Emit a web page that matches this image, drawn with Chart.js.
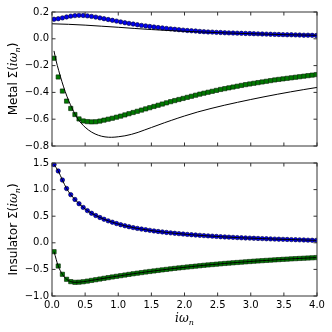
<!DOCTYPE html>
<html>
<head>
<meta charset="utf-8">
<script src="https://cdn.jsdelivr.net/npm/chart.js@4/dist/chart.umd.min.js"></script>
<style>
  body { margin: 0; background: #fff; }
  #wrap { position: relative; width: 332px; height: 332px; }
  canvas { position: absolute; left: 0; }
</style>
</head>
<body>
<div id="wrap">
  <canvas id="topChart" width="332" height="160" style="top:0"></canvas>
  <canvas id="botChart" width="332" height="182" style="top:150px"></canvas>
</div>
<script>
// Matsubara frequencies (x positions of the markers)
const omega = [0.031, 0.094, 0.157, 0.220, 0.283, 0.346, 0.408, 0.471, 0.534, 0.597,
  0.660, 0.723, 0.785, 0.848, 0.911, 0.974, 1.037, 1.100, 1.162, 1.225,
  1.288, 1.351, 1.414, 1.476, 1.539, 1.602, 1.665, 1.728, 1.791, 1.853,
  1.916, 1.979, 2.042, 2.105, 2.168, 2.231, 2.293, 2.356, 2.419, 2.482,
  2.545, 2.608, 2.670, 2.733, 2.796, 2.859, 2.922, 2.985, 3.047, 3.110,
  3.173, 3.236, 3.299, 3.362, 3.424, 3.487, 3.550, 3.613, 3.676, 3.738,
  3.801, 3.864, 3.927, 3.990];

// Metal panel
const metalBlue = [0.146, 0.150, 0.156, 0.163, 0.169, 0.173, 0.175, 0.174, 0.171, 0.167,
  0.162, 0.156, 0.150, 0.144, 0.138, 0.132, 0.126, 0.120, 0.115, 0.110,
  0.105, 0.100, 0.096, 0.092, 0.088, 0.084, 0.081, 0.077, 0.074, 0.071,
  0.068, 0.065, 0.062, 0.060, 0.058, 0.055, 0.053, 0.051, 0.050, 0.048,
  0.047, 0.045, 0.044, 0.043, 0.042, 0.041, 0.040, 0.039, 0.038, 0.037,
  0.036, 0.035, 0.034, 0.033, 0.032, 0.031, 0.030, 0.030, 0.029, 0.028,
  0.027, 0.027, 0.026, 0.025];
const metalGreen = [-0.145, -0.285, -0.390, -0.465, -0.520, -0.565, -0.598, -0.613, -0.618, -0.620,
  -0.619, -0.614, -0.607, -0.600, -0.593, -0.585, -0.577, -0.568, -0.559, -0.550,
  -0.541, -0.532, -0.523, -0.514, -0.505, -0.496, -0.487, -0.478, -0.469, -0.461,
  -0.453, -0.445, -0.437, -0.429, -0.421, -0.413, -0.406, -0.399, -0.392, -0.385,
  -0.378, -0.372, -0.366, -0.360, -0.354, -0.348, -0.342, -0.337, -0.332, -0.327,
  -0.322, -0.317, -0.312, -0.307, -0.303, -0.299, -0.295, -0.291, -0.287, -0.283,
  -0.279, -0.275, -0.271, -0.267];
const metalLineUpX = [0, 0.25, 0.5, 0.75, 1.0, 1.25, 1.5, 1.75, 2.0, 2.5, 3.0, 3.5, 4.0];
const metalLineUp = [0.112, 0.108, 0.102, 0.094, 0.086, 0.077, 0.069, 0.062, 0.056, 0.046, 0.038, 0.031, 0.026];
const metalLineLowX = [0.03, 0.06, 0.1, 0.15, 0.2, 0.25, 0.3, 0.35, 0.4, 0.5, 0.6, 0.7, 0.8, 0.9,
  1.0, 1.1, 1.2, 1.3, 1.4, 1.5, 1.6, 1.7, 1.8, 1.9, 2.0, 2.2, 2.4, 2.6, 2.8, 3.0, 3.2, 3.4, 3.6, 3.8, 4.0];
const metalLineLow = [-0.09, -0.16, -0.235, -0.32, -0.395, -0.46, -0.515, -0.565, -0.605, -0.66, -0.697, -0.72, -0.732, -0.735,
  -0.731, -0.724, -0.713, -0.698, -0.68, -0.662, -0.644, -0.626, -0.609, -0.592, -0.576, -0.546, -0.52, -0.496, -0.474, -0.453, -0.433, -0.414, -0.396, -0.379, -0.363];

// Insulator panel
const insBlue = [1.47, 1.35, 1.18, 1.02, 0.905, 0.815, 0.735, 0.665, 0.605, 0.555,
  0.513, 0.476, 0.443, 0.413, 0.387, 0.362, 0.340, 0.320, 0.302, 0.286,
  0.271, 0.258, 0.246, 0.234, 0.223, 0.213, 0.204, 0.195, 0.187, 0.179,
  0.172, 0.165, 0.158, 0.152, 0.146, 0.140, 0.135, 0.130, 0.125, 0.120,
  0.114, 0.110, 0.106, 0.102, 0.098, 0.094, 0.091, 0.088, 0.085, 0.082,
  0.079, 0.076, 0.073, 0.070, 0.068, 0.065, 0.063, 0.060, 0.058, 0.055,
  0.053, 0.050, 0.048, 0.046];
const insGreen = [-0.167, -0.436, -0.592, -0.686, -0.730, -0.743, -0.740, -0.732, -0.720, -0.707,
  -0.694, -0.681, -0.668, -0.655, -0.642, -0.630, -0.618, -0.606, -0.594, -0.582,
  -0.571, -0.560, -0.549, -0.539, -0.529, -0.519, -0.509, -0.500, -0.490, -0.481,
  -0.472, -0.464, -0.455, -0.447, -0.439, -0.431, -0.423, -0.416, -0.409, -0.402,
  -0.395, -0.388, -0.382, -0.376, -0.370, -0.364, -0.358, -0.352, -0.346, -0.341,
  -0.336, -0.331, -0.326, -0.321, -0.316, -0.311, -0.307, -0.302, -0.298, -0.294,
  -0.290, -0.286, -0.282, -0.278];

// tick labels
const xTicks = [0, 0.5, 1.0, 1.5, 2.0, 2.5, 3.0, 3.5, 4.0];
const metalTicks = [-0.8, -0.6, -0.4, -0.2, 0.0, 0.2];
const insTicks = [-1.0, -0.5, 0.0, 0.5, 1.0, 1.5];

Chart.defaults.font.family = 'DejaVu Sans';
Chart.defaults.font.size = 10;
Chart.defaults.color = '#000';

function pts(xs, ys) {
  return xs.map((x, i) => ({ x: x, y: ys[i] }));
}

function fmt(v) {
  const s = Math.abs(v).toFixed(1);
  return v < -1e-9 ? '\u2212' + s : s;
}

function lineSet(xs, ys) {
  return {
    data: pts(xs, ys), showLine: true, pointRadius: 0, borderColor: '#000',
    borderWidth: 1, cubicInterpolationMode: 'monotone'
  };
}

function blueSet(ys) {
  return {
    data: pts(omega, ys), pointStyle: 'circle', pointRadius: 2.2,
    backgroundColor: '#0000ee', borderColor: '#000033', borderWidth: 0.6
  };
}

function greenSet(ys) {
  return {
    data: pts(omega, ys), pointStyle: 'rect', pointRadius: 3,
    backgroundColor: '#007a00', borderColor: '#002200', borderWidth: 0.6
  };
}

// draws label like "Metal Σ(iω_n)" with mixed fonts
function drawMathLabel(ctx, parts, cx, cy, rotate) {
  ctx.save();
  ctx.translate(cx, cy);
  if (rotate) ctx.rotate(-Math.PI / 2);
  ctx.textBaseline = 'alphabetic';
  ctx.fillStyle = '#000';
  let w = 0;
  parts.forEach(p => { ctx.font = p.f; w += ctx.measureText(p.t).width; });
  let x = -w / 2;
  parts.forEach(p => {
    ctx.font = p.f;
    ctx.fillText(p.t, x, 4 + (p.dy || 0));
    x += ctx.measureText(p.t).width;
  });
  ctx.restore();
}

function mathParts(prefix, size) {
  return [
    { t: prefix + ' \u03A3(', f: size + 'px DejaVu Sans' },
    { t: 'i\u03C9', f: 'italic ' + size + 'px DejaVu Serif' },
    { t: 'n', f: 'italic ' + Math.round(size * 0.7) + 'px DejaVu Serif', dy: 2.5 },
    { t: ')', f: size + 'px DejaVu Sans' }
  ];
}

const frame = {
  id: 'frame',
  afterDraw(chart, args, opts) {
    const ctx = chart.ctx;
    const a = chart.chartArea;
    const xs = chart.scales.x, ys = chart.scales.y;
    ctx.save();
    ctx.strokeStyle = '#333';
    ctx.lineWidth = 1;
    ctx.strokeRect(a.left, a.top, a.right - a.left, a.bottom - a.top);
    const len = 3.5;
    ctx.beginPath();
    xTicks.forEach(v => {
      const px = xs.getPixelForValue(v);
      ctx.moveTo(px, a.bottom); ctx.lineTo(px, a.bottom - len);
      ctx.moveTo(px, a.top); ctx.lineTo(px, a.top + len);
    });
    opts.yTicks.forEach(v => {
      const py = ys.getPixelForValue(v);
      ctx.moveTo(a.left, py); ctx.lineTo(a.left + len, py);
      ctx.moveTo(a.right, py); ctx.lineTo(a.right - len, py);
    });
    ctx.stroke();
    ctx.restore();
    drawMathLabel(ctx, mathParts(opts.label, 12), 13, (a.top + a.bottom) / 2, true);
    if (opts.xLabel) {
      drawMathLabel(ctx, [
        { t: 'i\u03C9', f: 'italic 12px DejaVu Serif' },
        { t: 'n', f: 'italic 8px DejaVu Serif', dy: 2.5 }
      ], (a.left + a.right) / 2, a.bottom + 22, false);
    }
  }
};

function makeChart(id, datasets, yMin, yMax, yStep, yTicks, label, isBottom) {
  return new Chart(document.getElementById(id), {
    type: 'scatter',
    data: { datasets: datasets },
    options: {
      responsive: false,
      animation: false,
      layout: { padding: isBottom ? { left: 0, right: 15, top: 13, bottom: 0 }
                                  : { left: 0, right: 15, top: 12, bottom: 14 } },
      plugins: {
        legend: { display: false },
        tooltip: { enabled: false },
        frame: { yTicks: yTicks, label: label, xLabel: isBottom }
      },
      scales: {
        x: {
          type: 'linear', min: 0, max: 4,
          grid: { display: false, drawTicks: false },
          border: { display: false },
          ticks: { display: isBottom, stepSize: 0.5, padding: 3, maxRotation: 0,
                   callback: v => fmt(v) },
          afterFit: s => { s.height = isBottom ? 36 : 0; }
        },
        y: {
          type: 'linear', min: yMin, max: yMax,
          grid: { display: false, drawTicks: false },
          border: { display: false },
          ticks: { stepSize: yStep, padding: 3, callback: v => fmt(v) },
          afterFit: s => { s.width = 52; }
        }
      }
    },
    plugins: [frame]
  });
}

makeChart('topChart', [
  lineSet(metalLineUpX, metalLineUp),
  lineSet(metalLineLowX, metalLineLow),
  blueSet(metalBlue),
  greenSet(metalGreen)
], -0.8, 0.2, 0.2, metalTicks, 'Metal', false);

makeChart('botChart', [
  lineSet(omega, insBlue),
  lineSet(omega, insGreen),
  blueSet(insBlue),
  greenSet(insGreen)
], -1.0, 1.5, 0.5, insTicks, 'Insulator', true);
</script>
</body>
</html>
